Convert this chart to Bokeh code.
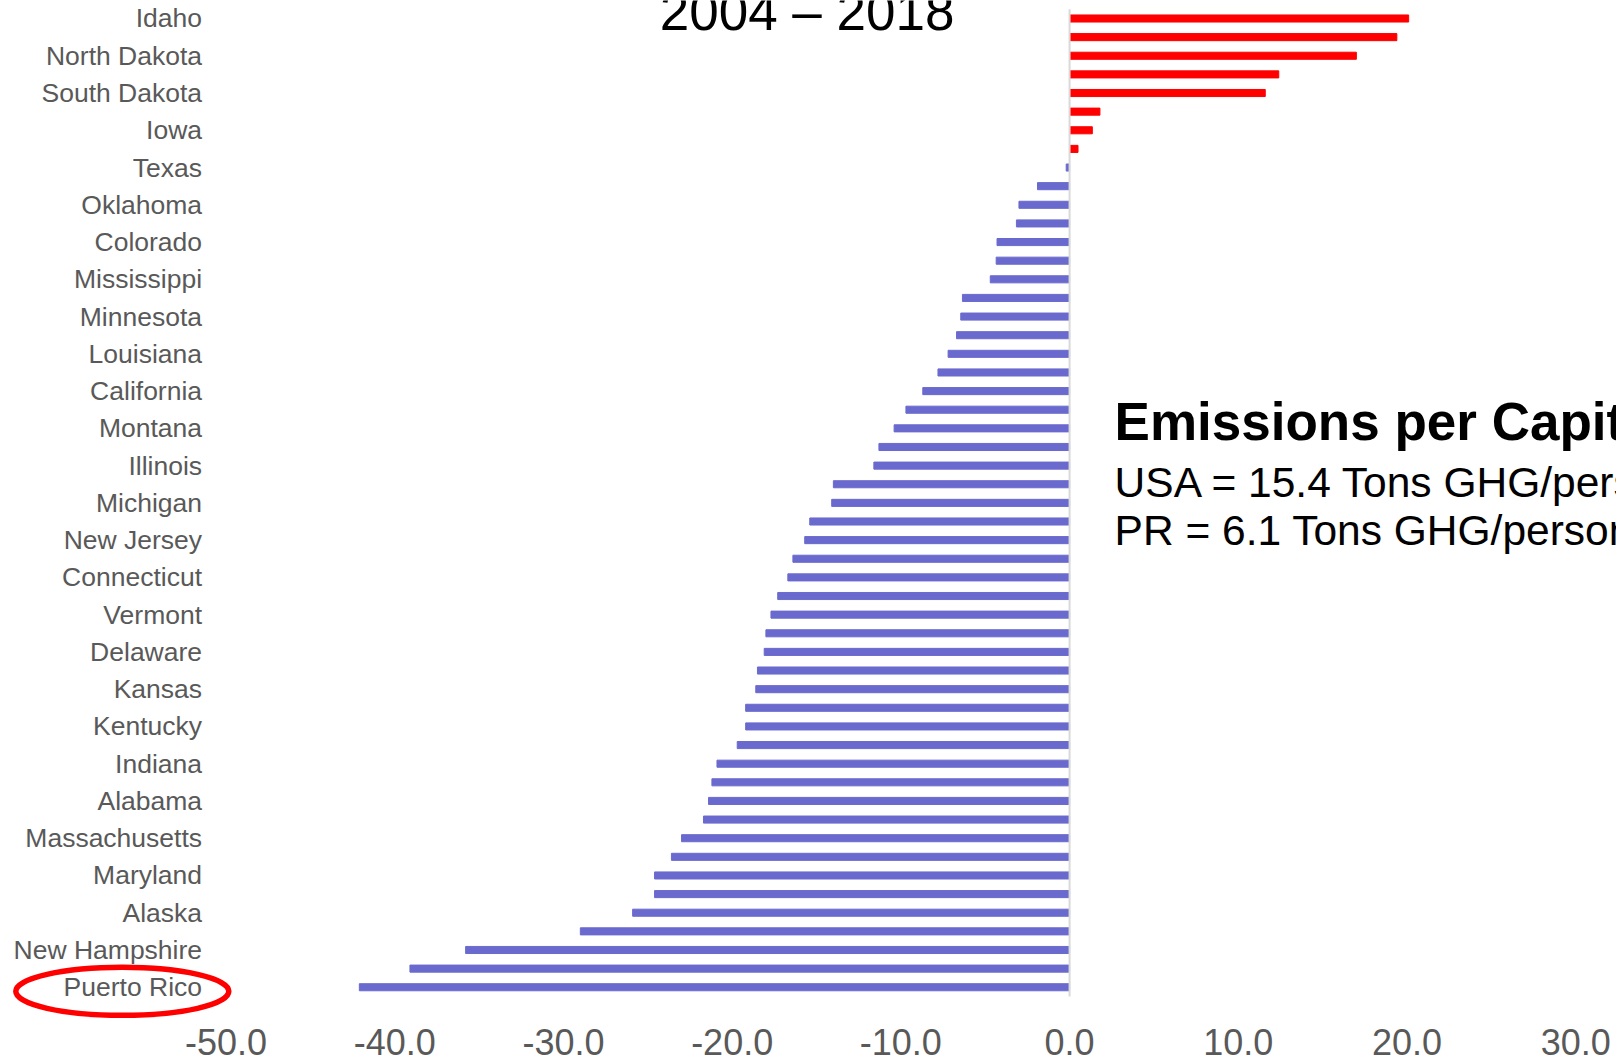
from bokeh.plotting import figure
from bokeh.models import Range1d, FixedTicker, ColumnDataSource, NumeralTickFormatter
from bokeh.core.properties import value
from bokeh.embed import file_html
from bokeh.resources import INLINE

# ---- data ----
values = [20.1, 19.4, 17.0, 12.4, 11.6, 1.8, 1.35, 0.5, -0.2, -1.9,
          -3.0, -3.15, -4.3, -4.35, -4.7, -6.35, -6.45, -6.7, -7.2, -7.8,
          -8.7, -9.7, -10.4, -11.3, -11.6, -14.0, -14.1, -15.4, -15.7, -16.4,
          -16.7, -17.3, -17.7, -18.0, -18.1, -18.5, -18.6, -19.2, -19.2, -19.7,
          -20.9, -21.2, -21.4, -21.7, -23.0, -23.6, -24.6, -24.6, -25.9, -29.0,
          -35.8, -39.1, -42.1]
# labels shown on every other bar (as in the original)
states = ["Idaho", "North Dakota", "South Dakota", "Iowa", "Texas", "Oklahoma",
          "Colorado", "Mississippi", "Minnesota", "Louisiana", "California",
          "Montana", "Illinois", "Michigan", "New Jersey", "Connecticut",
          "Vermont", "Delaware", "Kansas", "Kentucky", "Indiana", "Alabama",
          "Massachusetts", "Maryland", "Alaska", "New Hampshire", "Puerto Rico"]
x_ticks = [-50, -40, -30, -20, -10, 0, 10, 20, 30]
title_text = "2004 \u2013 2018"
note_title = "Emissions per Capita"
note_lines = ["USA = 15.4 Tons GHG/person", "PR = 6.1 Tons GHG/person"]

POS = "#FF0000"
NEG = "#6A6ACE"
GRAY = "#595959"
FONT = "Liberation Sans"

n = len(values)
rows = list(range(n))
colors = [POS if v > 0 else NEG for v in values]
src = ColumnDataSource(dict(y=rows, v=values, c=colors))

p = figure(width=1616, height=1060,
           x_range=Range1d(-63.37, 32.42), y_range=Range1d(54.0, -0.966),
           output_backend="svg", toolbar_location=None, y_axis_location=None,
           min_border_left=0, min_border_right=0, min_border_top=0, min_border_bottom=36)
p.grid.visible = False
p.outline_line_color = None
p.background_fill_color = "white"

ax = p.xaxis[0]
ax.ticker = FixedTicker(ticks=x_ticks)
ax.formatter = NumeralTickFormatter(format="0.0")
ax.axis_line_color = None
ax.major_tick_line_color = None
ax.minor_tick_line_color = None
ax.major_tick_out = 0
ax.major_tick_in = 0
ax.major_label_standoff = 4
ax.major_label_text_font = FONT
ax.major_label_text_font_size = "36px"
ax.major_label_text_color = GRAY

p.hbar(y="y", left=0, right="v", height=0.38, color="c", source=src)
p.segment(x0=[0], y0=[-0.5], x1=[0], y1=[n - 0.5], line_color="#D9D9D9", line_width=2)

label_rows = rows[::2]
p.text(x=[x_ticks[0]] * len(states), y=label_rows, text=states, x_offset=-24,
       text_align="right", text_baseline="middle", text_font=value(FONT),
       text_font_size="26.5px", text_color=GRAY)

pr_row = label_rows[states.index("Puerto Rico")]
p.ellipse(x=[x_ticks[0] - 6.15], y=[pr_row + 0.22], width=213, height=48,
          width_units="screen", height_units="screen",
          fill_color=None, line_color="#FF0000", line_width=5.5)

p.text(x=[-15.56], y=[-0.35], text=[title_text], text_align="center",
       text_baseline="alphabetic", text_font=value(FONT), text_font_size="53px",
       text_color="black")

p.text(x=[2.67], y=[21.65], text=[note_title], text_align="left",
       text_baseline="alphabetic", text_font=value(FONT), text_font_size="53px",
       text_font_style="bold", text_color="black")
p.text(x=[2.67, 2.67], y=[24.88, 27.51], text=note_lines, text_align="left",
       text_baseline="alphabetic", text_font=value(FONT), text_font_size="42.5px",
       text_color="black")

open("out.html", "w").write(file_html(p, INLINE))
